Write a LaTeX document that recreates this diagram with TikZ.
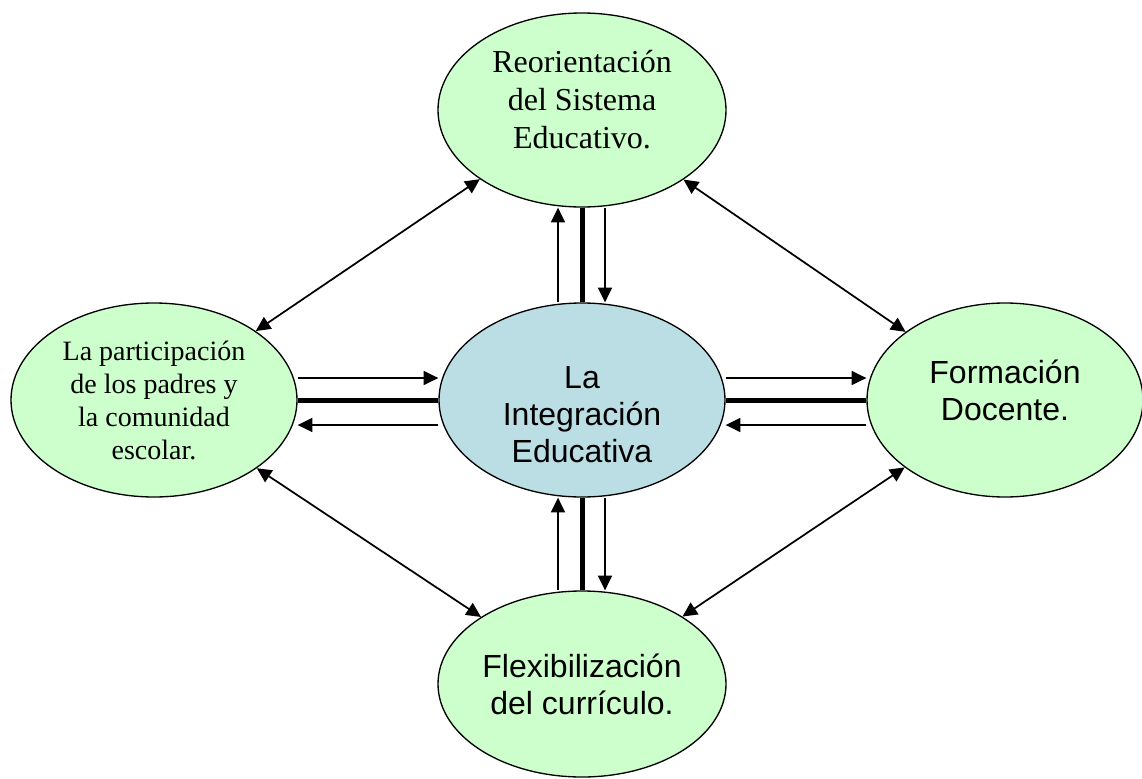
\documentclass[tikz,border=0pt]{standalone}
\usepackage{fontspec}
\setmainfont{Liberation Serif}
\newfontfamily\arialf{Liberation Sans}
\usetikzlibrary{arrows.meta,shapes.geometric}
\definecolor{ellgreen}{RGB}{204,255,204}
\definecolor{ellblue}{RGB}{187,222,228}
\begin{document}
\begin{tikzpicture}[x=0.75pt,y=-0.75pt,
  bubble/.style={ellipse, draw=black, line width=1pt, inner sep=0pt},
  greenbubble/.style={bubble, fill=ellgreen},
  bluebubble/.style={bubble, fill=ellblue},
  serifbig/.style={align=center, font=\fontsize{24}{28.5}\selectfont},
  serifmid/.style={align=center, font=\fontsize{21}{24.75}\selectfont},
  sansbig/.style={align=center, font=\arialf\fontsize{24}{27.75}\selectfont},
  thinline/.style={line width=1.3pt},
  arr/.style={thinline, -{Triangle[length=11pt,width=10.5pt]}},
  dbl/.style={thinline, {Triangle[length=11pt,width=10.5pt]}-{Triangle[length=11pt,width=10.5pt]}},
  heavy/.style={line width=3.75pt}]
\useasboundingbox (0,0) rectangle (1142,778);

\node[greenbubble, minimum width=216pt, minimum height=145.5pt,
  label={[serifbig,yshift=7.5pt]center:{Reorientación\\del Sistema\\Educativo.}}] (top) at (582,110) {};
\node[bluebubble, minimum width=214.5pt, minimum height=145.5pt,
  label={[sansbig,yshift=-11pt]center:{La\\Integración\\Educativa}}] (c) at (582,400) {};
\node[greenbubble, minimum width=214.5pt, minimum height=145.5pt,
  label={[serifmid]center:{La participación\\de los padres y\\la comunidad\\escolar.}}] (left) at (154,400) {};
\node[greenbubble, minimum width=207pt, minimum height=145.5pt,
  label={[sansbig,yshift=7pt]center:{Formación\\Docente.}}] (right) at (1005,400) {};
\node[greenbubble, minimum width=216pt, minimum height=139.5pt,
  label={[sansbig]center:{Flexibilización\\del currículo.}}] (bottom) at (582,684) {};

% left <-> center
\draw[arr] ([yshift=16.5pt]left.east) -- ([yshift=16.5pt]c.west);
\draw[heavy] (left.east) -- (c.west);
\draw[arr] ([yshift=-18.75pt]c.west) -- ([yshift=-18.75pt]left.east);
% center <-> right
\draw[arr] ([yshift=16.5pt]c.east) -- ([yshift=16.5pt]right.west);
\draw[heavy] (c.east) -- (right.west);
\draw[arr] ([yshift=-18.75pt]right.west) -- ([yshift=-18.75pt]c.east);
% top <-> center
\draw[arr] ([xshift=-18pt]c.north) -- ([xshift=-18pt]top.south);
\draw[heavy] (top.south) -- (c.north);
\draw[arr] ([xshift=17.25pt]top.south) -- ([xshift=17.25pt]c.north);
% center <-> bottom
\draw[arr] ([xshift=-18pt]bottom.north) -- ([xshift=-18pt]c.south);
\draw[heavy] (c.south) -- (bottom.north);
\draw[arr] ([xshift=17.25pt]c.south) -- ([xshift=17.25pt]bottom.north);

% diagonals
\draw[dbl] (top) -- (left);
\draw[dbl] (top) -- (right);
\draw[dbl] (left) -- (bottom);
\draw[dbl] (right) -- (bottom);
\end{tikzpicture}
\end{document}
